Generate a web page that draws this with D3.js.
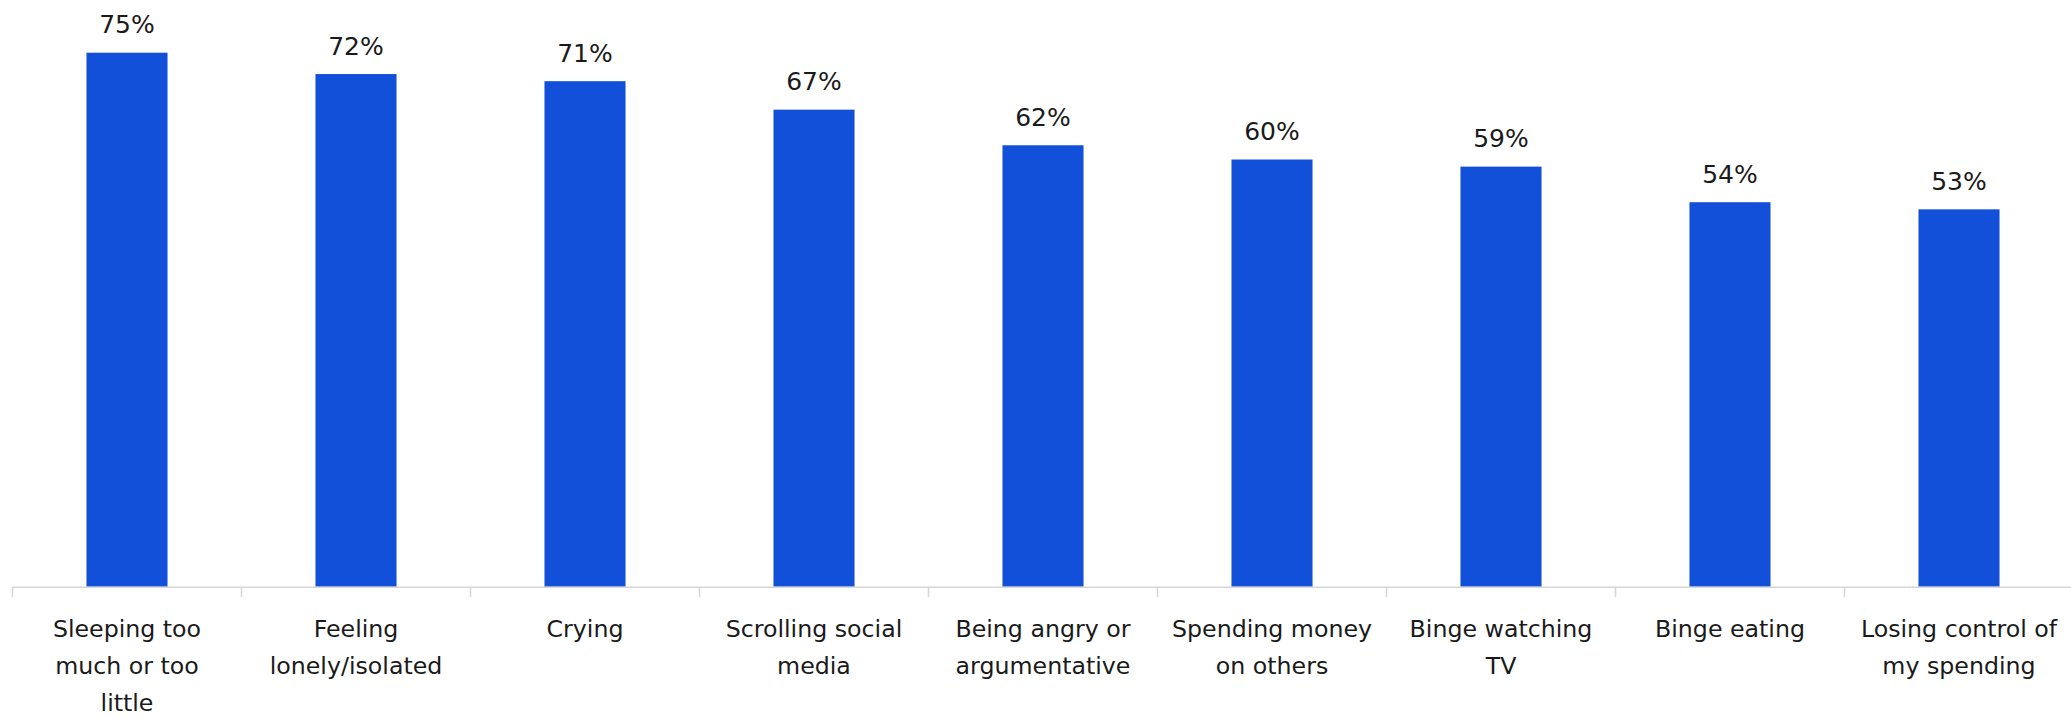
<!DOCTYPE html>
<html>
<head>
<meta charset="utf-8">
<script src="https://cdn.jsdelivr.net/npm/d3@7"></script>
<style>
  html, body { margin: 0; padding: 0; background: #ffffff; }
  svg { display: block; }
</style>
</head>
<body>
<svg id="chart" width="2071" height="717"></svg>
<script>
const categories = [
  "Sleeping too much or too little",
  "Feeling lonely/isolated",
  "Crying",
  "Scrolling social media",
  "Being angry or argumentative",
  "Spending money on others",
  "Binge watching TV",
  "Binge eating",
  "Losing control of my spending"
];
const tickLabels = [
  ["Sleeping too", "much or too", "little"],
  ["Feeling", "lonely/isolated"],
  ["Crying"],
  ["Scrolling social", "media"],
  ["Being angry or", "argumentative"],
  ["Spending money", "on others"],
  ["Binge watching", "TV"],
  ["Binge eating"],
  ["Losing control of", "my spending"]
];
const values = [75, 72, 71, 67, 62, 60, 59, 54, 53];

const svg = d3.select("#chart");
const baseY = 586.7;
const x = d3.scaleBand().domain(categories).range([12.5, 2073.5]).padding(0);
const xBar = d3.scaleBand().domain(categories).range([12.5, 2073.5])
  .paddingInner(0.646).paddingOuter(0.323);
const y = d3.scaleLinear().domain([0, 80]).range([baseY, 17.1]);

// bars
svg.append("g").selectAll("rect").data(values).join("rect")
  .attr("x", (d, i) => xBar(categories[i]))
  .attr("width", xBar.bandwidth())
  .attr("y", d => y(d))
  .attr("height", d => baseY - y(d))
  .attr("fill", "#1250d9");

// value labels
svg.append("g").selectAll("text").data(values).join("text")
  .attr("x", (d, i) => x(categories[i]) + x.bandwidth() / 2)
  .attr("y", d => y(d) - 19.5)
  .attr("text-anchor", "middle")
  .attr("font-family", "DejaVu Sans")
  .attr("font-size", 25)
  .attr("fill", "#1a1a1a")
  .text(d => d + "%");

// axis
const axis = d3.axisBottom(x).tickSize(0).tickFormat("");
const gAxis = svg.append("g").attr("transform", `translate(0,${baseY})`).call(axis);
gAxis.select(".domain").attr("stroke", "#d6d6d6").attr("stroke-width", 1.6);
// boundary ticks
const bounds = categories.map(c => x(c)).concat([x(categories[categories.length - 1]) + x.step()]);
gAxis.append("g").selectAll("line").data(bounds).join("line")
  .attr("x1", d => d).attr("x2", d => d)
  .attr("y1", 0).attr("y2", 10.5)
  .attr("stroke", "#d6d6d6").attr("stroke-width", 1.6);

// category labels
const firstBase = 636.5, lineGap = 37.2;
const lab = svg.append("g").selectAll("text").data(tickLabels).join("text")
  .attr("x", (d, i) => x(categories[i]) + x.bandwidth() / 2)
  .attr("y", firstBase)
  .attr("text-anchor", "middle")
  .attr("font-family", "DejaVu Sans")
  .attr("font-size", 23.7)
  .attr("fill", "#1a1a1a");
lab.each(function(lines, i) {
  const t = d3.select(this);
  const cx = x(categories[i]) + x.bandwidth() / 2;
  lines.forEach((ln, j) => {
    t.append("tspan").attr("x", cx).attr("y", firstBase + j * lineGap).text(ln);
  });
});
</script>
</body>
</html>
